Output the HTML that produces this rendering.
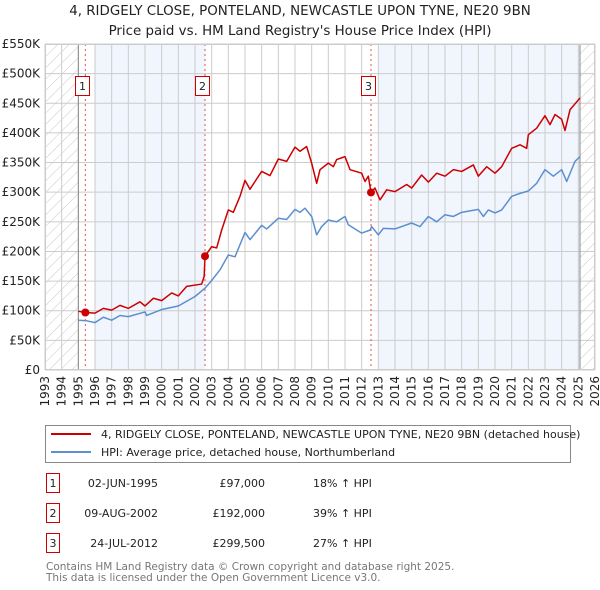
<!DOCTYPE html>
<html><head><meta charset="utf-8"><style>
body{margin:0;background:#fff;font-family:"Liberation Sans","DejaVu Sans",sans-serif;}
#wrap{position:relative;width:600px;height:590px;overflow:hidden;}
</style></head><body><div id="wrap">
<svg id="chart" width="600" height="590" style="position:absolute;left:0;top:0" font-family="DejaVu Sans, Liberation Sans, sans-serif">
<defs><pattern id="hatch" width="8" height="8" patternUnits="userSpaceOnUse" patternTransform="rotate(45)"><line x1="0" y1="0" x2="0" y2="8" stroke="#c8c8c8" stroke-width="1"/></pattern></defs>
<text x="300" y="15" text-anchor="middle" font-size="13.4" fill="#222">4, RIDGELY CLOSE, PONTELAND, NEWCASTLE UPON TYNE, NE20 9BN</text>
<text x="300" y="35" text-anchor="middle" font-size="13.4" fill="#222">Price paid vs. HM Land Registry's House Price Index (HPI)</text>
<g id="plot"></g>
</svg>
<svg width="600" height="590" style="position:absolute;left:0;top:0" font-family="DejaVu Sans, Liberation Sans, sans-serif" font-size="11">
<rect x="45.5" y="425.5" width="525" height="37" fill="#fff" stroke="#888"/>
<line x1="51" y1="434" x2="91" y2="434" stroke="#cc0000" stroke-width="2"/>
<text x="101" y="438" fill="#222">4, RIDGELY CLOSE, PONTELAND, NEWCASTLE UPON TYNE, NE20 9BN (detached house)</text>
<line x1="51" y1="452" x2="91" y2="452" stroke="#5b8fd0" stroke-width="2"/>
<text x="101" y="456" fill="#222">HPI: Average price, detached house, Northumberland</text>
<g>
<rect x="46.5" y="473.5" width="13" height="19" fill="#fff" stroke="#cc0000"/>
<text x="53" y="487" text-anchor="middle" fill="#222">1</text>
<text x="158" y="487" text-anchor="end" fill="#222">02-JUN-1995</text>
<text x="265" y="487" text-anchor="end" fill="#222">£97,000</text>
<text x="313" y="487" fill="#222">18% ↑ HPI</text>
<rect x="46.5" y="503.5" width="13" height="19" fill="#fff" stroke="#cc0000"/>
<text x="53" y="517" text-anchor="middle" fill="#222">2</text>
<text x="158" y="517" text-anchor="end" fill="#222">09-AUG-2002</text>
<text x="265" y="517" text-anchor="end" fill="#222">£192,000</text>
<text x="313" y="517" fill="#222">39% ↑ HPI</text>
<rect x="46.5" y="533.5" width="13" height="19" fill="#fff" stroke="#cc0000"/>
<text x="53" y="547" text-anchor="middle" fill="#222">3</text>
<text x="158" y="547" text-anchor="end" fill="#222">24-JUL-2012</text>
<text x="265" y="547" text-anchor="end" fill="#222">£299,500</text>
<text x="313" y="547" fill="#222">27% ↑ HPI</text>
</g>
<text x="46" y="570" fill="#777" font-size="10.5">Contains HM Land Registry data © Crown copyright and database right 2025.</text>
<text x="46" y="581" fill="#777" font-size="10.5">This data is licensed under the Open Government Licence v3.0.</text>
</svg>
</div>
<script>
const hpiYears=[1995,1995.5,1996,1996.5,1997,1997.5,1998,1999,1999.1,2000,2001,2002,2002.6,2003,2003.5,2004,2004.4,2005,2005.3,2006,2006.3,2007,2007.5,2008,2008.3,2008.6,2009,2009.3,2009.6,2010,2010.5,2011,2011.2,2012,2012.5,2012.6,2013,2013.3,2014,2015,2015.5,2016,2016.5,2017,2017.5,2018,2019,2019.3,2019.6,2020,2020.4,2021,2021.5,2022,2022.5,2023,2023.5,2024,2024.3,2024.8,2025.1];
const hpiValues=[84,83,80,89,84,92,90,98,92,102,108,124,138,151,169,194,191,232,220,244,238,256,254,271,266,273,259,228,242,253,250,259,245,231,236,242,228,239,238,248,242,259,250,262,259,266,271,259,270,265,270,293,298,302,315,338,327,338,318,352,360];
const priceYears=[1995,1995.42,1996,1996.5,1997,1997.5,1998,1998.7,1999,1999.5,2000,2000.6,2001,2001.5,2002.4,2002.55,2002.6,2003,2003.3,2003.6,2004,2004.3,2004.7,2005,2005.3,2005.6,2006,2006.5,2007,2007.5,2008,2008.3,2008.7,2009,2009.3,2009.5,2010,2010.3,2010.5,2011,2011.3,2012,2012.2,2012.4,2012.56,2012.8,2013.1,2013.5,2014,2014.7,2015,2015.6,2016,2016.5,2017,2017.5,2018,2018.7,2019,2019.5,2020,2020.4,2021,2021.5,2021.9,2022,2022.5,2023,2023.3,2023.6,2024,2024.2,2024.5,2025.1];
const priceValues=[99,97,96,104,101,109,104,115,108,121,117,130,125,141,145,158,192,208,206,236,270,266,293,320,305,318,335,328,356,352,376,369,377,349,315,338,349,343,355,360,338,332,318,327,299.5,307,287,304,301,313,307,329,317,332,327,338,335,346,327,343,332,343,374,380,374,397,408,429,414,431,423,404,439,459];
const saleYears=[1995.42,2002.6,2012.56];
const saleValues=[97,192,299.5];
const saleLabels=["1","2","3"];
const yTicks=[0,50,100,150,200,250,300,350,400,450,500,550];
const yTickLabels=["£0","£50K","£100K","£150K","£200K","£250K","£300K","£350K","£400K","£450K","£500K","£550K"];
const xTicks=[1993,1994,1995,1996,1997,1998,1999,2000,2001,2002,2003,2004,2005,2006,2007,2008,2009,2010,2011,2012,2013,2014,2015,2016,2017,2018,2019,2020,2021,2022,2023,2024,2025,2026];

const L=45,R=595,T=44,B=370;
const xs=y=>L+(y-1993)/33*(R-L);
const ys=v=>B-v/550*(B-T);
const NS="http://www.w3.org/2000/svg";
const g=document.getElementById('plot');
function mk(tag,attrs,parent){const e=document.createElementNS(NS,tag);for(const k in attrs)e.setAttribute(k,attrs[k]);(parent||g).appendChild(e);return e;}
mk('rect',{x:L,y:T,width:R-L,height:B-T,fill:'#fff'});
let sh=mk('rect',{x:xs(1996),y:T,width:xs(2002.6)-xs(1996),height:B-T,fill:'#eef3fc',opacity:0.8});


sh=mk('rect',{x:xs(2013),y:T,width:xs(2025.1)-xs(2013),height:B-T,fill:'#eef3fc',opacity:0.8});


let h=mk('rect',{x:L,y:T,width:xs(1995)-L,height:B-T,fill:'url(#hatch)'});


h=mk('rect',{x:xs(2025.1),y:T,width:R-xs(2025.1),height:B-T,fill:'url(#hatch)'});


yTicks.forEach((v,i)=>{
  mk('line',{x1:L,x2:R,y1:ys(v),y2:ys(v),stroke:'#ccc','stroke-width':1});
  const t=mk('text',{x:L-5,y:ys(v)+4,'text-anchor':'end','font-size':12,fill:'#222'});
  t.textContent=yTickLabels[i];
  
  
});
xTicks.forEach(y=>{
  mk('line',{x1:xs(y),x2:xs(y),y1:T,y2:B,stroke:'#ccc','stroke-width':1});
  const t=mk('text',{x:0,y:0,'text-anchor':'end','font-size':12,fill:'#222',transform:`translate(${xs(y)+4},${B+6}) rotate(-90)`});
  t.textContent=y;
  
  
});
mk('line',{x1:xs(1995),x2:xs(1995),y1:T,y2:B,stroke:'#888','stroke-width':1});
mk('line',{x1:xs(2025.1),x2:xs(2025.1),y1:T,y2:B,stroke:'#888','stroke-width':1});
saleYears.forEach((y,i)=>{
  const d=mk('line',{x1:xs(y),x2:xs(y),y1:T,y2:B,stroke:'#e05050','stroke-width':1,'stroke-dasharray':'2,3'});
  
  
});
const hp=mk('polyline',{points:hpiYears.map((y,i)=>xs(y)+','+ys(hpiValues[i])).join(' '),fill:'none',stroke:'#5b8fd0','stroke-width':1.5,'stroke-linejoin':'round'});


const pp=mk('polyline',{points:priceYears.map((y,i)=>xs(y)+','+ys(priceValues[i])).join(' '),fill:'none',stroke:'#cc0000','stroke-width':1.5,'stroke-linejoin':'round'});


saleYears.forEach((y,i)=>{
  const c=mk('circle',{cx:xs(y),cy:ys(saleValues[i]),r:4,fill:'#cc0000'});
  
  
  const bx=mk('rect',{x:Math.round(xs(y)-10)+0.5,y:76.5,width:14,height:19,fill:'#fff',stroke:'#cc0000'});
  
  
  const t=mk('text',{x:Math.round(xs(y)-10)+7.5,y:90,'text-anchor':'middle','font-size':11,fill:'#222'});
  t.textContent=saleLabels[i];
  
  
});
mk('rect',{x:L+0.5,y:T+0.5,width:R-L-1,height:B-T-1,fill:'none',stroke:'#ccc'});
</script>
</body></html>
